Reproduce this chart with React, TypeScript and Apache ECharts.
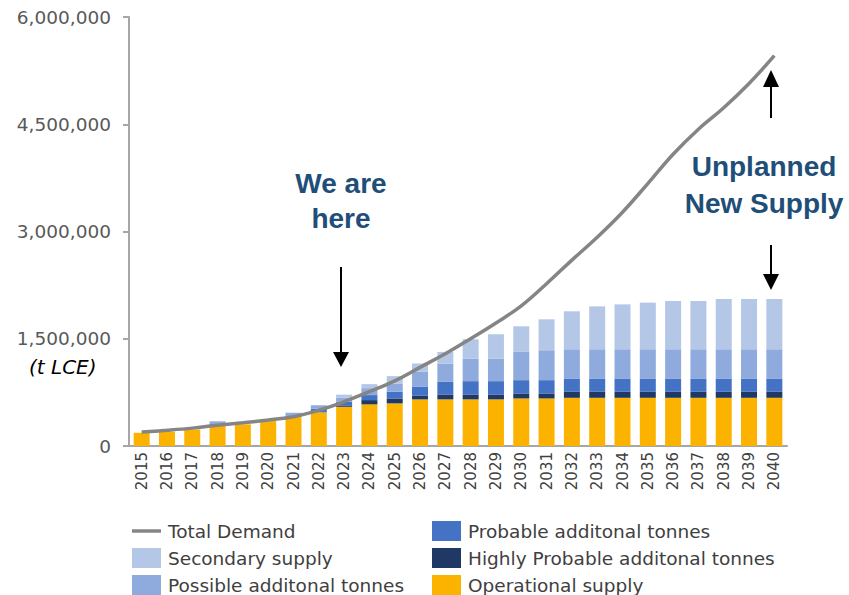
import React, { useEffect, useRef } from "react";
import * as echarts from "echarts";

const years = ["2015","2016","2017","2018","2019","2020","2021","2022","2023","2024","2025","2026","2027","2028","2029","2030","2031","2032","2033","2034","2035","2036","2037","2038","2039","2040"];

const totalDemand = [195000, 220000, 250000, 290000, 325000, 365000, 410000, 500000, 620000, 760000, 910000, 1100000, 1290000, 1500000, 1720000, 1960000, 2270000, 2600000, 2920000, 3270000, 3670000, 4080000, 4430000, 4730000, 5070000, 5460000];

const operationalSupply = [185000, 200000, 230000, 280000, 303000, 350000, 405000, 470000, 548000, 582000, 596000, 652000, 652000, 652000, 652000, 665000, 665000, 674000, 674000, 674000, 674000, 674000, 674000, 674000, 674000, 674000];
const highlyProbable = [0, 0, 0, 0, 0, 0, 0, 0, 20000, 60000, 69000, 50000, 69000, 69000, 69000, 70000, 70000, 84000, 84000, 84000, 84000, 84000, 84000, 84000, 84000, 84000];
const probable = [0, 0, 0, 25000, 0, 0, 0, 50000, 50000, 70000, 93000, 125000, 176000, 186000, 186000, 186000, 186000, 186000, 186000, 186000, 186000, 186000, 186000, 186000, 186000, 186000];
const possible = [0, 0, 0, 40000, 0, 0, 60000, 50000, 60000, 97000, 117000, 210000, 257000, 316000, 316000, 395000, 418000, 409000, 409000, 409000, 409000, 409000, 409000, 409000, 409000, 409000];
const secondarySupply = [0, 0, 0, 0, 0, 0, 0, 0, 40000, 56000, 102000, 117000, 162000, 270000, 340000, 358000, 433000, 531000, 600000, 628000, 652000, 675000, 675000, 703000, 703000, 703000];

const yTicks = [0, 1500000, 3000000, 4500000, 6000000];

const FONT = "DejaVu Sans";
const NAVY_TEXT = "#1F4E79";

export default function App() {
  const ref = useRef<HTMLDivElement>(null);
  useEffect(() => {
    if (!ref.current) return;
    const chart = echarts.init(ref.current, null, { renderer: "svg" });
    const barCommon = { type: "bar", stack: "supply", barWidth: 16 };
    const legendCommon = {
      orient: "vertical",
      top: 521,
      height: 74,
      padding: 0,
      itemWidth: 29,
      itemHeight: 20,
      itemGap: 7,
      textStyle: { fontFamily: FONT, fontSize: 18.5, lineHeight: 20, color: "#404040", padding: [0, 0, 0, 2] },
    };
    chart.setOption({
      animation: false,
      backgroundColor: "#ffffff",
      grid: { left: 129, right: 62, top: 17, bottom: 149, containLabel: false },
      legend: [
        {
          ...legendCommon,
          left: 132,
          data: [
            { name: "Total Demand", icon: "path://M0,0L25,0L25,3L0,3Z" },
            { name: "Secondary supply", icon: "rect" },
            { name: "Possible additonal tonnes", icon: "rect" },
          ],
        },
        {
          ...legendCommon,
          left: 432,
          data: [
            { name: "Probable additonal tonnes", icon: "rect" },
            { name: "Highly Probable additonal tonnes", icon: "rect" },
            { name: "Operational supply", icon: "rect" },
          ],
        },
      ],
      xAxis: {
        type: "category",
        data: years,
        axisLine: { lineStyle: { color: "#A6A6A6", width: 2 } },
        axisTick: { show: false },
        axisLabel: { rotate: 90, fontFamily: FONT, fontSize: 15, color: "#404040", margin: 6, interval: 0 },
      },
      yAxis: {
        type: "value",
        min: yTicks[0],
        max: yTicks[yTicks.length - 1],
        interval: yTicks[1] - yTicks[0],
        splitLine: { show: false },
        axisLine: { show: true, lineStyle: { color: "#A6A6A6", width: 2 } },
        axisTick: { show: true, length: 6, lineStyle: { color: "#A6A6A6", width: 2 } },
        axisLabel: {
          fontFamily: FONT,
          fontSize: 18.5,
          color: "#595959",
          margin: 18,
          formatter: (v: number) => v.toLocaleString("en-US"),
        },
      },
      series: [
        { ...barCommon, name: "Operational supply", data: operationalSupply, itemStyle: { color: "#FBB300" } },
        { ...barCommon, name: "Highly Probable additonal tonnes", data: highlyProbable, itemStyle: { color: "#203864" } },
        { ...barCommon, name: "Probable additonal tonnes", data: probable, itemStyle: { color: "#4472C4" } },
        { ...barCommon, name: "Possible additonal tonnes", data: possible, itemStyle: { color: "#8FAADC" } },
        { ...barCommon, name: "Secondary supply", data: secondarySupply, itemStyle: { color: "#B4C7E7" } },
        {
          name: "Total Demand",
          type: "line",
          data: totalDemand,
          smooth: 0.4,
          symbol: "none",
          z: 5,
          lineStyle: { color: "#858585", width: 3.5 },
          itemStyle: { color: "#858585" },
        },
      ],
      graphic: [
        { type: "text", left: 29, top: 357, style: { text: "(t LCE)", font: "italic 20px 'DejaVu Sans'", fill: "#000" } },
        { type: "text", x: 341, y: 183, style: { text: "We are", font: "bold 28px 'Liberation Sans'", fill: NAVY_TEXT, align: "center", verticalAlign: "middle" } },
        { type: "text", x: 341, y: 218, style: { text: "here", font: "bold 28px 'Liberation Sans'", fill: NAVY_TEXT, align: "center", verticalAlign: "middle" } },
        { type: "line", shape: { x1: 341, y1: 267, x2: 341, y2: 353 }, style: { stroke: "#000", lineWidth: 2 } },
        { type: "polygon", shape: { points: [[333, 352], [349, 352], [341, 367]] }, style: { fill: "#000" } },
        { type: "text", x: 764, y: 166, style: { text: "Unplanned", font: "bold 28px 'Liberation Sans'", fill: NAVY_TEXT, align: "center", verticalAlign: "middle" } },
        { type: "text", x: 764, y: 203, style: { text: "New Supply", font: "bold 28px 'Liberation Sans'", fill: NAVY_TEXT, align: "center", verticalAlign: "middle" } },
        { type: "line", shape: { x1: 771, y1: 118, x2: 771, y2: 85 }, style: { stroke: "#000", lineWidth: 2 } },
        { type: "polygon", shape: { points: [[763, 87], [779, 87], [771, 70]] }, style: { fill: "#000" } },
        { type: "line", shape: { x1: 771, y1: 245, x2: 771, y2: 276 }, style: { stroke: "#000", lineWidth: 2 } },
        { type: "polygon", shape: { points: [[763, 274], [779, 274], [771, 290]] }, style: { fill: "#000" } },
      ],
    });
    return () => chart.dispose();
  }, []);
  return <div ref={ref} style={{ position: "fixed", left: 0, top: 0, width: 849, height: 595 }} />;
}
